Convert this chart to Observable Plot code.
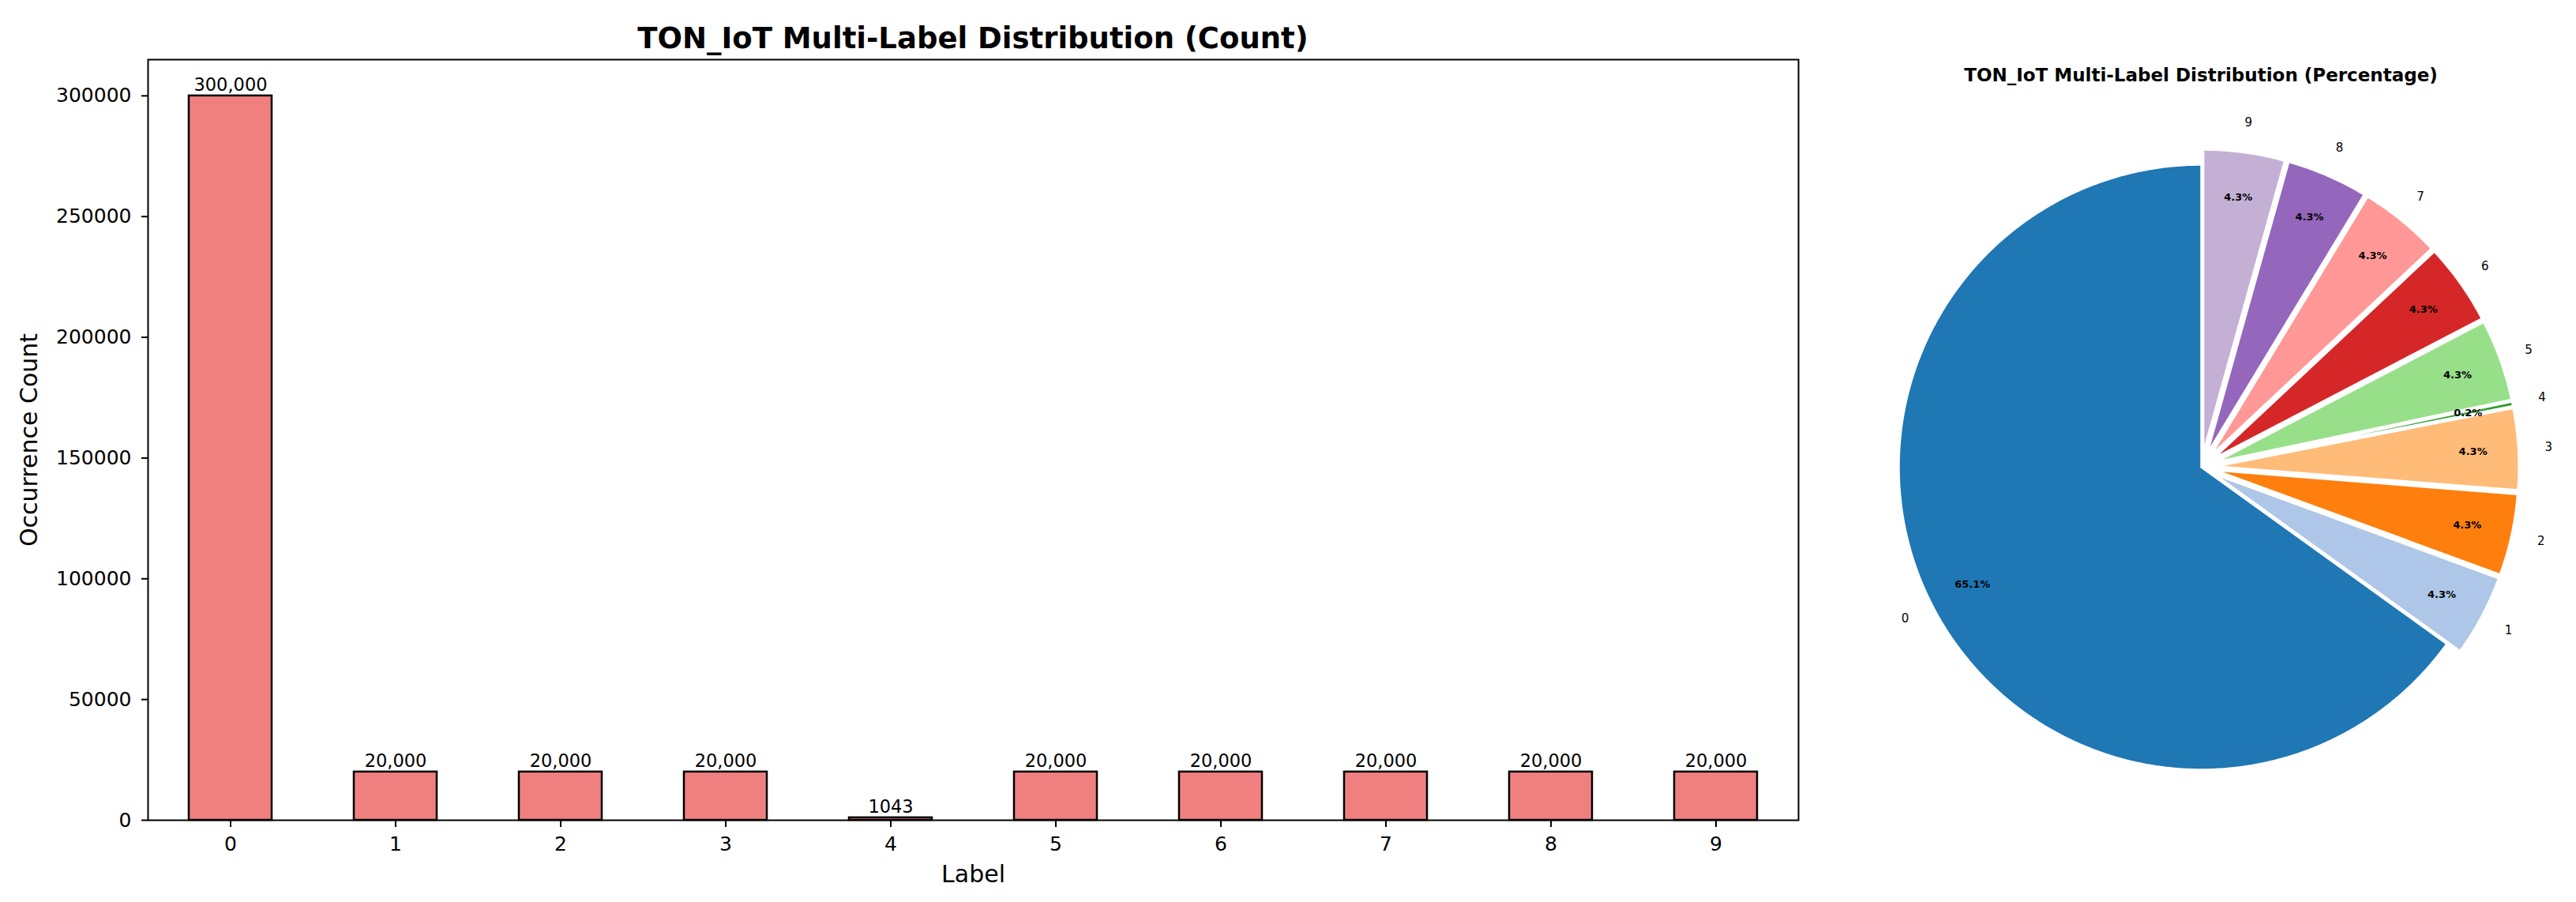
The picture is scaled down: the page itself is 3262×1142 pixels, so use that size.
<!DOCTYPE html>
<html><head><meta charset="utf-8">
<script src="https://cdn.jsdelivr.net/npm/d3@7"></script>
<script src="https://cdn.jsdelivr.net/npm/@observablehq/plot@0.6"></script>
<style>
html,body{margin:0;padding:0;background:#fff;}
#wrap{position:relative;width:3262px;height:1142px;overflow:hidden;background:#fff;font-family:"DejaVu Sans",sans-serif;color:#000;}
.title{position:absolute;font-weight:bold;white-space:nowrap;transform:translate(-50%,-50%);line-height:1;}
#bar,#pie{position:absolute;top:0;}
</style></head><body>
<div id="wrap">
  <div id="bar" style="left:0"></div>
  <div id="pie" style="left:2300px"></div>
  <div class="title" style="left:1232px;top:48px;font-size:37px">TON_IoT Multi-Label Distribution (Count)</div>
  <div class="title" style="left:2787px;top:95px;font-size:23px">TON_IoT Multi-Label Distribution (Percentage)</div>
</div>
<script>
// ---- data ----
const labels = ["0","1","2","3","4","5","6","7","8","9"];
const counts = [300000, 20000, 20000, 20000, 1043, 20000, 20000, 20000, 20000, 20000];
const countText = ["300,000","20,000","20,000","20,000","1043","20,000","20,000","20,000","20,000","20,000"];
const explode = [0, 0.05, 0.05, 0.05, 0.05, 0.05, 0.05, 0.05, 0.05, 0.05];
const yTicks = [0, 50000, 100000, 150000, 200000, 250000, 300000];
const pieColors = ["#1f77b4","#aec7e8","#ff7f0e","#ffbb78","#2ca02c","#98df8a","#d62728","#ff9896","#9467bd","#c5b0d5"];

// ---- bar chart ----
const barData = labels.map((l, i) => ({label: l, count: counts[i], text: countText[i]}));
const bar = Plot.plot({
  width: 2300, height: 1142,
  marginLeft: 187, marginRight: 23, marginTop: 75, marginBottom: 104,
  style: {fontFamily: "DejaVu Sans", fontSize: "25px", background: "white", color: "black"},
  x: {type: "band", domain: labels, paddingInner: 0.5, paddingOuter: 0.25, label: null},
  y: {domain: [0, 315000], label: null},
  marks: [
    Plot.barY(barData, {x: "label", y: "count", fill: "#F08080", stroke: "black", strokeWidth: 2.5}),
    Plot.text(barData, {x: "label", y: "count", text: "text", lineAnchor: "bottom", dy: -6, fontSize: 22.5, fill: "black"}),
    Plot.axisY({ticks: yTicks, tickFormat: d => String(d), tickSize: 8, tickPadding: 13, strokeWidth: 2, label: null}),
    Plot.axisX({tickSize: 9, tickPadding: 12, strokeWidth: 2, label: null}),
    Plot.frame({stroke: "black", strokeWidth: 2}),
    Plot.text(["Occurrence Count"], {text: d => d, frameAnchor: "left", dx: -150, rotate: -90, fontSize: 30, textAnchor: "middle", lineAnchor: "middle", fill: "black"}),
    Plot.text(["Label"], {text: d => d, frameAnchor: "bottom", dy: 69, fontSize: 30, textAnchor: "middle", lineAnchor: "middle", fill: "black"})
  ]
});
document.getElementById("bar").appendChild(bar);

// ---- pie chart ----
const total = d3.sum(counts);
const rad = d => d * Math.PI / 180;
let cum = 0;
const slices = counts.map((c, i) => {
  const a0 = 90 + 360 * cum / total;
  cum += c;
  const a1 = 90 + 360 * cum / total;
  const mid = (a0 + a1) / 2;
  const ox = explode[i] * Math.cos(rad(mid)), oy = explode[i] * Math.sin(rad(mid));
  return {label: labels[i], value: c, a0, a1, mid, ox, oy};
});
const polyPts = [];
for (const s of slices) {
  polyPts.push({label: s.label, x: s.ox, y: s.oy});
  const n = Math.max(2, Math.ceil((s.a1 - s.a0) / 0.5));
  for (let k = 0; k <= n; k++) {
    const a = rad(s.a0 + (s.a1 - s.a0) * k / n);
    polyPts.push({label: s.label, x: s.ox + Math.cos(a), y: s.oy + Math.sin(a)});
  }
}
const pctFmt = d3.format(".1%");
const labelPts = slices.map(s => ({
  label: s.label,
  pct: pctFmt(s.value / total),
  lx: s.ox + 1.1 * Math.cos(rad(s.mid)), ly: s.oy + 1.1 * Math.sin(rad(s.mid)),
  px: s.ox + 0.85 * Math.cos(rad(s.mid)), py: s.oy + 0.85 * Math.sin(rad(s.mid))
}));
const R = 383, W = 962, H = 1142, cx = 487, cy = 591;
const pie = Plot.plot({
  width: W, height: H, margin: 0,
  style: {fontFamily: "DejaVu Sans", background: "white", color: "black"},
  x: {domain: [-cx / R, (W - cx) / R], axis: null},
  y: {domain: [-(H - cy) / R, cy / R], axis: null},
  color: {domain: labels, range: pieColors},
  marks: [
    Plot.line(polyPts, {x: "x", y: "y", z: "label", fill: "label", stroke: "white", strokeWidth: 2.5, curve: "linear-closed"}),
    Plot.text(labelPts, {x: "lx", y: "ly", text: "label", fontSize: 15, textAnchor: "middle", lineAnchor: "middle", fill: "black"}),
    Plot.text(labelPts, {x: "px", y: "py", text: "pct", fontSize: 13, fontWeight: "bold", textAnchor: "middle", lineAnchor: "middle", fill: "black"})
  ]
});
document.getElementById("pie").appendChild(pie);
</script>
</body></html>
